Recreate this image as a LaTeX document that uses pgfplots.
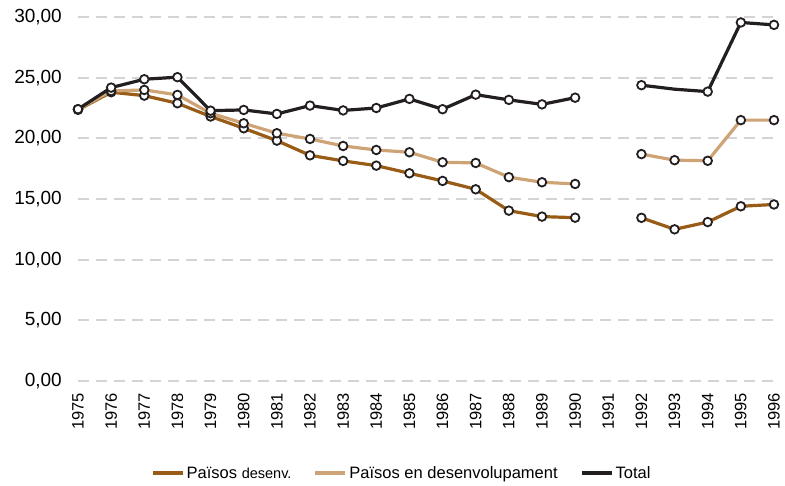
\documentclass[border=0pt]{standalone}
\usepackage{pgfplots}
\usepackage{pgfplotstable}
\pgfplotsset{compat=1.18}
\usepackage{fontspec}
\setmainfont{Liberation Sans}

\definecolor{cdev}{RGB}{152,92,22}
\definecolor{cdvg}{RGB}{206,163,118}
\definecolor{ctot}{RGB}{35,31,32}
\definecolor{cgrid}{RGB}{212,212,212}

\pgfplotstableread{
year dev dvg tot
1975 22.35 22.40 22.40
1976 23.80 23.90 24.18
1977 23.52 23.99 24.87
1978 22.89 23.58 25.04
1979 21.80 22.07 22.28
1980 20.83 21.24 22.34
1981 19.81 20.42 22.01
1982 18.60 19.95 22.70
1983 18.14 19.37 22.30
1984 17.75 19.04 22.50
1985 17.12 18.85 23.25
1986 16.49 18.03 22.40
1987 15.80 17.97 23.60
1988 14.04 16.80 23.17
1989 13.55 16.38 22.80
1990 13.46 16.24 23.35
1991 nan nan nan
1992 13.45 18.70 24.38
1993 12.50 18.20 24.05
1994 13.10 18.15 23.85
1995 14.40 21.50 29.55
1996 14.55 21.50 29.35
}\data

\pgfplotsset{
  serline/.style={line width=3.2pt, no marks, line join=round},
  dotmark/.style={only marks, mark=*, mark size=4.3pt,
     mark options={fill=white, draw=ctot, line width=1.8pt}},
}

\begin{document}
\begin{tikzpicture}
\begin{axis}[
  at={(0pt,0pt)}, anchor=south west,
  scale only axis, width=696pt, height=364pt,
  xmin=1975, xmax=1996, ymin=0, ymax=30,
  clip=false,
  axis line style={draw=none},
  major tick length=0pt,
  xtick={1975,...,1996},
  ytick={0,5,...,30},
  ymajorgrids,
  grid style={cgrid, line width=1.8pt, dash pattern=on 11pt off 7pt},
  xticklabel style={/pgf/number format/1000 sep={}, /pgf/number format/assume math mode=true,
     font=\fontsize{16.5}{16.5}\selectfont, yshift=-12pt, rotate=90, anchor=east, inner sep=0pt},
  yticklabel style={/pgf/number format/.cd, fixed, fixed zerofill, precision=2, use comma, assume math mode=true,
     /tikz/.cd, font=\fontsize{19}{19}\selectfont, anchor=east, inner sep=0pt, xshift=-16pt},
  unbounded coords=jump,
  legend columns=3,
  legend style={at={(0.465,-0.253)}, anchor=center, draw=none, fill=none,
     font=\fontsize{16.5}{16.5}\selectfont,
     /tikz/every even column/.append style={column sep=20pt}},
  legend image code/.code={\draw[#1, line width=4pt] (0pt,0pt) -- (30pt,0pt);},
]
\addplot[cdev, serline] table[x=year, y=dev]{\data};
\addlegendentry{Països {\fontsize{14.5}{14.5}\selectfont desenv.}}
\addplot[cdvg, serline] table[x=year, y=dvg]{\data};
\addlegendentry{Països en desenvolupament}
\addplot[ctot, serline] table[x=year, y=tot]{\data};
\addlegendentry{Total}

\addplot[dotmark, forget plot] table[x=year, y=dev]{\data};
\addplot[dotmark, forget plot] table[x=year, y=dvg]{\data};
\addplot[dotmark, forget plot, x filter/.expression={x==1993 ? nan : x}] table[x=year, y=tot]{\data};
\end{axis}
\pgfresetboundingbox
\useasboundingbox (-78pt,-104pt) rectangle (707pt,381pt);
\end{tikzpicture}
\end{document}
